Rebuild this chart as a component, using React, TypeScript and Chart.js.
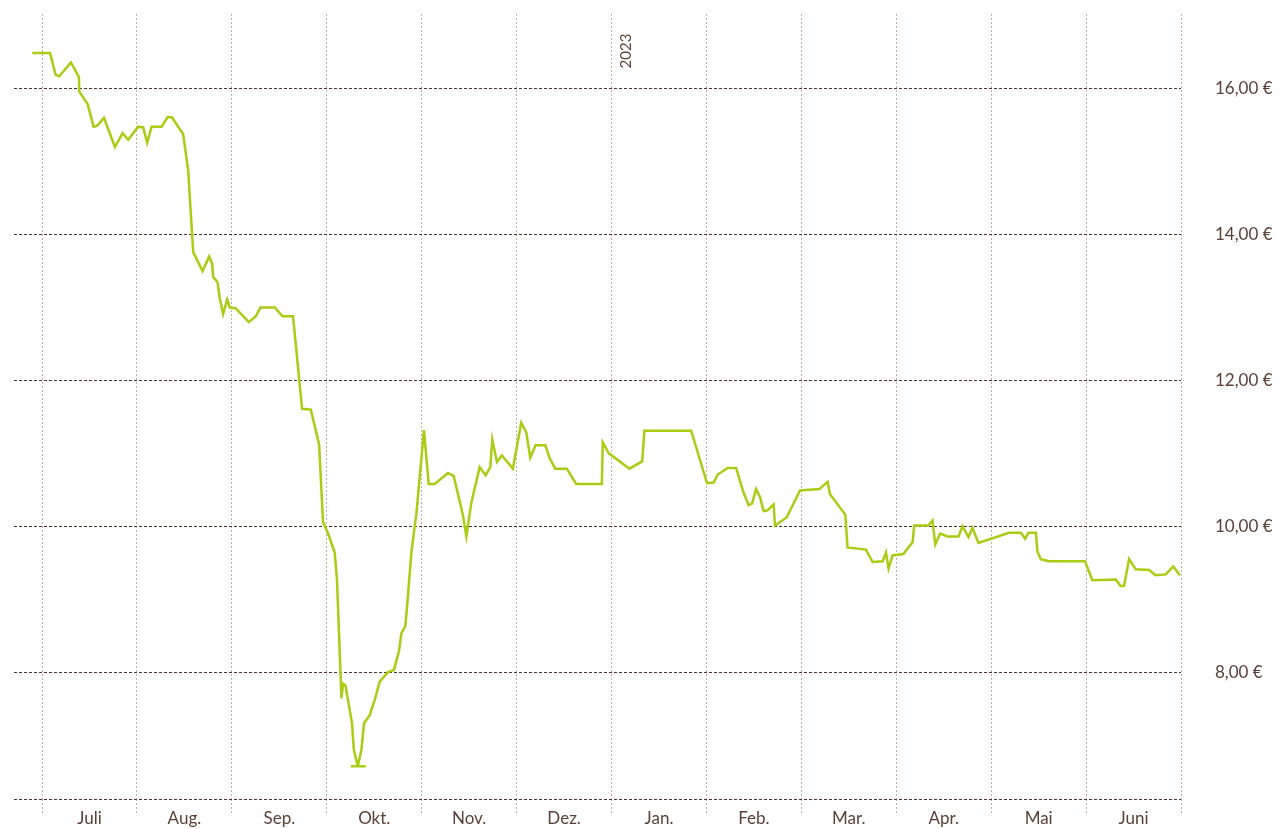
import React, { useEffect, useRef } from "react";
import { Chart, registerables } from "chart.js";

Chart.register(...registerables);

// Month labels (between month-start gridlines)
const monthLabels = ["Juli", "Aug.", "Sep.", "Okt.", "Nov.", "Dez.", "Jan.", "Feb.", "Mar.", "Apr.", "Mai", "Juni"];
const yearLabel = "2023";
const yTicks = [8, 10, 12, 14, 16];

// Time position in months since 1 July (0 = Juli start)
const monthPos = [
  -0.102, 0.084, 0.144, 0.182, 0.305, 0.389, 0.393, 0.481, 0.544, 0.579,
  0.653, 0.708, 0.768, 0.849, 0.908, 1.014, 1.066, 1.108, 1.155, 1.26,
  1.323, 1.368, 1.487, 1.54, 1.593, 1.692, 1.761, 1.793, 1.803, 1.849,
  1.874, 1.908, 1.951, 1.979, 2.039, 2.179, 2.253, 2.302, 2.453, 2.534,
  2.645, 2.74, 2.832, 2.919, 2.961, 3.014, 3.084, 3.108, 3.155, 3.172,
  3.197, 3.266, 3.284, 3.326, 3.253, 3.411, 3.326, 3.365, 3.393, 3.453,
  3.505, 3.558, 3.645, 3.708, 3.761, 3.786, 3.828, 3.849, 3.892, 3.944,
  4.024, 4.074, 4.137, 4.277, 4.337, 4.435, 4.471, 4.523, 4.611, 4.674,
  4.723, 4.744, 4.793, 4.845, 4.961, 5.049, 5.102, 5.144, 5.2, 5.302,
  5.347, 5.407, 5.529, 5.628, 5.898, 5.908, 5.972, 6.189, 6.323, 6.347,
  6.839, 7.007, 7.077, 7.119, 7.224, 7.313, 7.389, 7.445, 7.481, 7.523,
  7.565, 7.603, 7.645, 7.708, 7.723, 7.845, 7.986, 8.189, 8.277, 8.302,
  8.463, 8.487, 8.681, 8.751, 8.857, 8.892, 8.919, 8.961, 9.074, 9.172,
  9.189, 9.337, 9.382, 9.411, 9.463, 9.54, 9.656, 9.698, 9.761, 9.803,
  9.866, 10.189, 10.313, 10.358, 10.393, 10.471, 10.488, 10.523, 10.611, 10.989,
  11.066, 11.313, 11.365, 11.4, 11.453, 11.523, 11.663, 11.734, 11.839, 11.919,
  11.989,
];

// Share price in €
const prices = [
  16.49, 16.49, 16.19, 16.17, 16.36, 16.16, 15.96, 15.79, 15.48, 15.49,
  15.6, 15.41, 15.2, 15.39, 15.3, 15.48, 15.47, 15.26, 15.48, 15.48,
  15.61, 15.61, 15.38, 14.88, 13.76, 13.5, 13.7, 13.6, 13.42, 13.35,
  13.12, 12.91, 13.11, 13.0, 12.99, 12.8, 12.88, 13.0, 13.0, 12.88,
  12.88, 11.61, 11.6, 11.13, 10.06, 9.9, 9.64, 9.26, 7.64, 7.84,
  7.82, 7.3, 6.95, 6.71, 6.71, 6.71, 6.71, 6.93, 7.3, 7.41,
  7.62, 7.87, 8.0, 8.03, 8.29, 8.53, 8.63, 8.94, 9.65, 10.17,
  11.32, 10.58, 10.58, 10.73, 10.69, 10.15, 9.86, 10.32, 10.81, 10.7,
  10.81, 11.19, 10.88, 10.97, 10.79, 11.42, 11.29, 10.94, 11.11, 11.11,
  10.94, 10.79, 10.79, 10.58, 10.58, 11.15, 11.0, 10.79, 10.89, 11.31,
  11.31, 10.59, 10.6, 10.71, 10.8, 10.8, 10.47, 10.29, 10.31, 10.51,
  10.4, 10.21, 10.22, 10.3, 10.01, 10.12, 10.49, 10.51, 10.61, 10.44,
  10.16, 9.71, 9.68, 9.51, 9.52, 9.64, 9.42, 9.6, 9.62, 9.78,
  10.01, 10.01, 10.08, 9.75, 9.9, 9.86, 9.86, 10.0, 9.85, 9.98,
  9.77, 9.91, 9.91, 9.83, 9.91, 9.91, 9.65, 9.55, 9.52, 9.52,
  9.26, 9.27, 9.18, 9.18, 9.55, 9.41, 9.4, 9.33, 9.34, 9.45,
  9.33,
];

const TEXT = "#5a3f37";
const DARK_GRID = "#4d3128";
const LIGHT_GRID = "#c4b0a9";
const LINE = "#a8cd14";
const FONT = "Lato, 'Open Sans', sans-serif";

export default function App() {
  const ref = useRef<HTMLCanvasElement | null>(null);

  useEffect(() => {
    if (!ref.current) return;
    const points = monthPos.map((x, i) => ({ x, y: prices[i] }));

    const extras = {
      id: "extras",
      afterDraw(chart: any) {
        const { ctx, chartArea } = chart;
        const xs = chart.scales.x;
        ctx.save();
        // bottom dashed line
        ctx.strokeStyle = DARK_GRID;
        ctx.lineWidth = 1;
        ctx.setLineDash([3, 2]);
        ctx.beginPath();
        ctx.moveTo(chartArea.left, Math.round(chartArea.bottom) + 0.5);
        ctx.lineTo(chartArea.right, Math.round(chartArea.bottom) + 0.5);
        ctx.stroke();
        ctx.setLineDash([]);
        // year label
        const px = xs.getPixelForValue(6) + 15;
        ctx.translate(px, 51);
        ctx.rotate(-Math.PI / 2);
        ctx.fillStyle = TEXT;
        ctx.font = `15px ${FONT}`;
        ctx.textAlign = "center";
        ctx.textBaseline = "middle";
        ctx.fillText(yearLabel, 0, 0);
        ctx.restore();
      },
    };

    const chart = new Chart(ref.current, {
      type: "line",
      data: {
        datasets: [
          {
            data: points,
            borderColor: LINE,
            borderWidth: 2.5,
            pointRadius: 0,
            tension: 0,
            fill: false,
          },
        ],
      },
      options: {
        animation: false,
        responsive: false,
        maintainAspectRatio: false,
        layout: { padding: { left: 14, top: 14, right: 0, bottom: 0 } },
        plugins: { legend: { display: false }, tooltip: { enabled: false } },
        scales: {
          x: {
            type: "linear",
            min: -0.295,
            max: 12,
            afterBuildTicks: (scale: any) => {
              scale.ticks = Array.from({ length: 13 }, (_, i) => ({ value: i }));
            },
            afterFit: (scale: any) => {
              scale.height = 30;
            },
            grid: {
              color: LIGHT_GRID,
              lineWidth: 1,
              drawTicks: true,
              tickLength: 14,
              tickColor: LIGHT_GRID,
              tickBorderDash: [2, 2],
            },
            border: { display: false, dash: [2, 2] },
            ticks: {
              autoSkip: false,
              maxRotation: 0,
              padding: -5,
              labelOffset: 47.5,
              color: TEXT,
              font: { family: FONT, size: 17 },
              callback: (v: any) => (monthLabels[v] !== undefined ? monthLabels[v] : ""),
            },
          },
          y: {
            type: "linear",
            position: "right",
            min: 6.26,
            max: 17.025,
            afterBuildTicks: (scale: any) => {
              scale.ticks = yTicks.map((v) => ({ value: v }));
            },
            afterFit: (scale: any) => {
              scale.width = 100;
            },
            grid: {
              color: DARK_GRID,
              lineWidth: 1,
              drawTicks: true,
              tickLength: 31,
              tickColor: "rgba(0,0,0,0)",
            },
            border: { display: false, dash: [3, 2] },
            ticks: {
              padding: 3,
              color: TEXT,
              font: { family: FONT, size: 17 },
              callback: (v: any) => Number(v).toFixed(2).replace(".", ",") + " €",
            },
          },
        },
      },
      plugins: [extras],
    });
    return () => chart.destroy();
  }, []);

  return (
    <div style={{ position: "absolute", left: 0, top: 0, width: 1281, height: 829 }}>
      <canvas ref={ref} width={1281} height={829} />
    </div>
  );
}
